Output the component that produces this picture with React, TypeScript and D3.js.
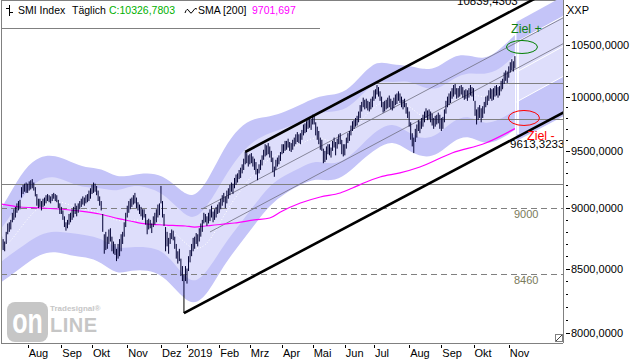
import React from "react";
import * as d3 from "d3";

// --- trading calendar (SIX) ---
const holidays = ["2018-08-01", "2018-12-24", "2018-12-25", "2018-12-26", "2018-12-31", "2019-01-01", "2019-01-02",
  "2019-04-19", "2019-04-22", "2019-05-01", "2019-05-30", "2019-06-10", "2019-08-01"];
const monthNames = ["2019", "Feb", "Mrz", "Apr", "Mai", "Jun", "Jul", "Aug", "Sep", "Okt", "Nov", "Dez"];

// daily [low, high], first bar = Jul 9 2018 (trading day #5)
const firstBar = 5;
const jul18 = [[8660,8760],[8650,8740],[8640,8720],[8700,8800],[8780,8870],[8800,8880],[8820,8900],[8880,8960],[8900,8990],[8920,9010],[8960,9040],[8980,9060],[8990,9070],[9090,9180],[9120,9200],[9140,9210],[9130,9220]];
const aug18 = [[9130,9210],[9150,9230],[9160,9240],[9170,9250],[9150,9220],[9100,9180],[9020,9120],[9000,9080],[9010,9080],[8980,9060],[9010,9080],[9020,9090],[9040,9110],[9060,9120],[9050,9110],[9040,9100],[9060,9120],[9080,9130],[9060,9120],[9050,9110],[9000,9070],[8950,9040]];
const sep18 = [[8950,9010],[8900,8980],[8840,8930],[8810,8880],[8830,8900],[8860,8950],[8880,8960],[8900,8990],[8920,9010],[8950,9040],[8930,9020],[8960,9040],[8990,9060],[9010,9080],[9030,9100],[9020,9090],[9040,9110],[9050,9120],[9060,9150],[9080,9170]];
const oct18 = [[9120,9200],[9130,9220],[9140,9210],[9110,9190],[9060,9150],[9020,9100],[8980,9060],[8800,8950],[8620,8780],[8650,8800],[8660,8760],[8700,8820],[8720,8830],[8640,8760],[8620,8720],[8610,8700],[8560,8660],[8580,8700],[8600,8740],[8640,8780],[8700,8800],[8760,8880],[8840,8960]];
const nov18 = [[8920,9020],[8960,9060],[8990,9080],[9010,9090],[9030,9110],[9040,9130],[9000,9090],[8980,9050],[8950,9030],[8930,9010],[8900,8990],[8920,8990],[8860,8950],[8780,8900],[8820,8910],[8830,8900],[8790,8870],[8840,8930],[8860,8960],[8880,8990],[8920,9030],[8940,9040]];
const dec18 = [[9040,9190],[8920,9060],[8850,8950],[8640,8840],[8680,8800],[8620,8750],[8700,8790],[8740,8820],[8730,8810],[8660,8760],[8580,8700],[8540,8640],[8560,8660],[8440,8580],[8400,8520],[8290,8450],[8400,8520]];
const jan19 = [[8380,8500],[8480,8600],[8550,8650],[8600,8700],[8640,8750],[8660,8760],[8700,8790],[8680,8780],[8720,8830],[8760,8870],[8800,8900],[8870,8960],[8880,8950],[8850,8930],[8870,8960],[8890,8990],[8920,9020],[8880,8970],[8900,8990],[8920,9010],[8950,9030]];
const feb19 = [[8960,9050],[8990,9080],[9020,9110],[9050,9130],[9000,9100],[9040,9150],[9080,9170],[9110,9200],[9140,9220],[9120,9210],[9170,9260],[9200,9290],[9220,9300],[9250,9330],[9260,9350],[9300,9380],[9330,9430],[9380,9490],[9390,9480],[9360,9460]];
const mar19 = [[9380,9470],[9390,9480],[9360,9450],[9330,9430],[9290,9400],[9240,9340],[9300,9380],[9330,9420],[9370,9460],[9420,9510],[9450,9560],[9460,9550],[9470,9570],[9440,9540],[9400,9500],[9310,9440],[9270,9360],[9330,9420],[9360,9440],[9380,9460],[9410,9490]];
const apr19 = [[9470,9560],[9480,9560],[9500,9590],[9510,9590],[9530,9610],[9500,9580],[9490,9570],[9510,9600],[9540,9620],[9560,9650],[9580,9670],[9570,9650],[9560,9660],[9600,9690],[9640,9740],[9660,9750],[9670,9770],[9700,9790],[9710,9790],[9690,9790]];
const may19 = [[9740,9830],[9740,9820],[9640,9760],[9600,9720],[9560,9680],[9510,9620],[9500,9600],[9390,9520],[9400,9500],[9420,9540],[9470,9560],[9460,9560],[9440,9530],[9500,9590],[9530,9620],[9460,9580],[9520,9610],[9560,9650],[9560,9660],[9470,9600],[9450,9560]];
const jun19 = [[9460,9560],[9520,9620],[9570,9660],[9590,9680],[9640,9730],[9680,9770],[9700,9780],[9720,9800],[9730,9820],[9760,9860],[9800,9920],[9860,9950],[9900,9990],[9880,9970],[9890,9980],[9870,9960],[9860,9950],[9880,9980],[9900,10000]];
const jul19 = [[9960,10060],[9980,10070],[10020,10110],[10000,10090],[9960,10050],[9900,10000],[9850,9950],[9860,9960],[9880,9970],[9890,9990],[9900,10010],[9880,9980],[9870,9960],[9890,9990],[9920,10020],[9930,10030],[9960,10050],[9940,10030],[9900,10000],[9880,9970],[9900,9980],[9840,9940],[9800,9900]];
const aug19 = [[9720,9860],[9600,9760],[9540,9660],[9480,9620],[9580,9700],[9620,9740],[9680,9780],[9660,9770],[9700,9800],[9720,9830],[9760,9860],[9800,9890],[9780,9870],[9790,9880],[9760,9860],[9730,9840],[9700,9800],[9720,9820],[9740,9830],[9750,9850],[9700,9830]];
const sep19 = [[9680,9800],[9700,9810],[9760,9880],[9840,9960],[9900,10000],[9920,10030],[9940,10050],[9980,10080],[10000,10110],[10020,10120],[9980,10080],[9990,10080],[10000,10100],[10020,10110],[9990,10090],[9970,10060],[9980,10070],[9960,10060],[9990,10080],[10010,10110],[10000,10090]];
const oct19 = [[9960,10080],[9820,9960],[9740,9880],[9780,9900],[9800,9920],[9760,9890],[9800,9910],[9840,9950],[9900,10000],[9920,10010],[9960,10060],[9980,10080],[9960,10070],[9970,10080],[10000,10100],[10010,10110],[9990,10090],[10010,10100],[10050,10150],[10070,10170],[10120,10230],[10150,10250],[10130,10240]];
const nov19 = [[10180,10290],[10230,10330],[10250,10360],[10240,10340],[10270,10390]];

// SMA 200
const smaDays = [5, 17, 30, 43, 56, 69, 82, 89, 99, 112, 125, 131, 138, 144, 151, 157, 170, 180, 187, 200, 213, 226, 234, 243, 252, 265, 278, 299, 321, 340];
const smaVals = [9033, 9009, 9001, 8992, 8975, 8950, 8908, 8891, 8866, 8857, 8849, 8840, 8849, 8857, 8866, 8874, 8900, 8916, 8967, 9043, 9095, 9129, 9172, 9225, 9268, 9304, 9356, 9481, 9571, 9702];

// bands
const bandDays = [0, 10, 20, 30, 40, 50, 60, 70, 80, 90, 100, 110, 120, 130, 140, 150, 160, 170, 180, 190, 200, 210, 220, 230, 240, 250, 260, 270, 280, 290, 300, 310, 320, 330, 340];
const outerTop = [8899, 9112, 9348, 9454, 9463, 9401, 9348, 9348, 9260, 9286, 9304, 9286, 9173, 9069, 9242, 9526, 9717, 9800, 9810, 9856, 9921, 9997, 10015, 10044, 10206, 10352, 10303, 10303, 10255, 10274, 10401, 10401, 10352, 10450, 10600];
const innerTop = [8749, 8916, 9129, 9260, 9277, 9216, 9173, 9173, 9138, 9199, 9181, 9129, 9001, 8882, 9026, 9260, 9463, 9598, 9662, 9708, 9763, 9846, 9856, 9874, 10015, 10158, 10130, 10158, 10082, 10063, 10177, 10235, 10206, 10255, 10401];
const midBand = [8610, 8700, 8882, 9026, 9069, 9026, 8984, 8967, 8882, 8899, 8899, 8882, 8774, 8634, 8691, 8942, 9138, 9312, 9437, 9508, 9553, 9644, 9571, 9598, 9782, 9940, 9968, 9940, 9782, 9828, 9968, 10044, 9978, 10044, 10158];
const innerBot = [8505, 8610, 8691, 8782, 8807, 8790, 8774, 8749, 8658, 8675, 8675, 8650, 8505, 8361, 8489, 8691, 8857, 9026, 9199, 9286, 9348, 9419, 9374, 9419, 9553, 9690, 9763, 9671, 9598, 9644, 9782, 9828, 9735, 9782, 9874];
const outerBot = [8353, 8433, 8529, 8618, 8642, 8602, 8594, 8553, 8449, 8489, 8489, 8449, 8314, 8197, 8306, 8529, 8691, 8857, 9026, 9129, 9199, 9260, 9225, 9286, 9419, 9526, 9598, 9508, 9437, 9463, 9598, 9644, 9553, 9598, 9690];
// projected band
const projDays = [341, 372];
const projOuterTop = [10731, 10998];
const projInnerTop = [10530, 10792];
const projMid = [10235, 10490];
const projInnerBot = [9949, 10197];
const projOuterBot = [9589, 9819];

// trend channel [day, value]
const upperLine = [[164, 9490], [380, 11199]];
const lowerLine = [[124, 8150], [380, 9913]];
const thinLineA = [[136, 8993], [380, 10843]];
const thinLineB = [[141, 8799], [380, 10582]];
const solidLevels = [[5, 9205], [207, 9790], [250, 10125]];
const dashedLevels = [9000, 8460];

const yTicks = [8000, 8500, 9000, 9500, 10000, 10500];

function tradingDays(n: number) {
  const out: Date[] = [];
  const d = new Date(Date.UTC(2018, 6, 2));
  while (out.length < n) {
    const wd = d.getUTCDay();
    const key = d.toISOString().slice(0, 10);
    if (wd !== 0 && wd !== 6 && !holidays.includes(key)) out.push(new Date(d));
    d.setUTCDate(d.getUTCDate() + 1);
  }
  return out;
}

const fmt = (v: number) => v.toFixed(4).replace(".", ",");

export default function App() {
  const L = 1, R = 563, T = 0, B = 343;
  const days = tradingDays(380);
  const bars = [jul18, aug18, sep18, oct18, nov18, dec18, jan19, feb19, mar19, apr19, may19, jun19, jul19, aug19, sep19, oct19, nov19]
    .flat().map((d, k) => ({ i: firstBar + k, lo: d[0], hi: d[1] }));
  const lastIdx = bars[bars.length - 1].i;

  const x = d3.scaleLinear().domain([4.6, 371.4]).range([L, R]);
  const y = d3.scaleLog().domain([7922.5, 10956]).range([B, T]);

  // month ticks inside data range
  const months: { i: number; label: string }[] = [];
  days.forEach((d, i) => {
    if (i === 0 || i > lastIdx) return;
    if (d.getUTCMonth() !== days[i - 1].getUTCMonth()) {
      const m = d.getUTCMonth();
      months.push({ i, label: m === 0 ? String(d.getUTCFullYear()) : monthNames[m] });
    }
  });

  const band = bandDays.map((i, k) => ({ i, ot: outerTop[k], it: innerTop[k], m: midBand[k], ib: innerBot[k], ob: outerBot[k] }));
  const proj = projDays.map((i, k) => ({ i, ot: projOuterTop[k], it: projInnerTop[k], m: projMid[k], ib: projInnerBot[k], ob: projOuterBot[k] }));

  const area = (lo: string, hi: string, curve: d3.CurveFactory) =>
    d3.area<any>().x((d) => x(d.i)).y0((d) => y(d[lo])).y1((d) => y(d[hi])).curve(curve);
  const line = (key: string, curve: d3.CurveFactory) =>
    d3.line<any>().x((d) => x(d.i)).y((d) => y(d[key])).curve(curve);

  const sma = smaDays.map((i, k) => ({ i, v: smaVals[k] }));
  const smaPath = d3.line<any>().x((d) => x(d.i)).y((d) => y(d.v)).curve(d3.curveMonotoneX)(sma);

  const seg = (p: number[][]) => ({ x1: x(p[0][0]), y1: y(p[0][1]), x2: x(p[1][0]), y2: y(p[1][1]) });

  const minorTicks = d3.range(8000, 11000, 100);
  const font = "'Liberation Sans', Arial, sans-serif";
  const xr = x(lastIdx + 2);

  return (
    <svg width={640} height={360} style={{ position: "absolute", left: 0, top: 0, background: "#fff" }} fontFamily={font}>
      <defs>
        <clipPath id="plot"><rect x={L} y={T} width={R - L} height={B - T} /></clipPath>
      </defs>
      <rect x={0} y={0} width={640} height={360} fill="#fff" />
      <line x1={L} x2={R} y1={0.5} y2={0.5} stroke="#808080" />
      <g clipPath="url(#plot)">
        {/* bands */}
        <path d={area("ob", "ot", d3.curveBasis)(band) || ""} fill="#c4c4f8" />
        <path d={area("ib", "it", d3.curveBasis)(band) || ""} fill="#dedefb" />
        <path d={line("m", d3.curveBasis)(band) || ""} fill="none" stroke="#fff" strokeWidth={1} strokeDasharray="1,2" />
        <path d={area("ob", "ot", d3.curveLinear)(proj) || ""} fill="#c4c4f8" />
        <path d={area("ib", "it", d3.curveLinear)(proj) || ""} fill="#dedefb" />
        {["it", "m", "ib"].map((k) => (
          <path key={k} d={line(k, d3.curveLinear)(proj) || ""} fill="none" stroke="#fff" strokeWidth={1} />
        ))}
        <line x1={xr} x2={xr} y1={y(10540)} y2={y(9650)} stroke="#fff" strokeWidth={2} />

        {/* levels */}
        {solidLevels.map(([i, v]) => (
          <line key={v} x1={x(i)} x2={R} y1={Math.round(y(v)) + 0.5} y2={Math.round(y(v)) + 0.5} stroke="#808080" strokeWidth={1} />
        ))}
        {dashedLevels.map((v) => (
          <g key={v}>
            <line x1={L} x2={R} y1={Math.round(y(v)) + 0.5} y2={Math.round(y(v)) + 0.5} stroke="#808080" strokeDasharray="6,4" />
            <text x={514} y={y(v) + 10} fontSize={11} fill="#7a7a5a">{v}</text>
          </g>
        ))}

        {/* channel */}
        <line {...seg(thinLineA)} stroke="#6e6e80" strokeWidth={0.8} />
        <line {...seg(thinLineB)} stroke="#6e6e80" strokeWidth={0.8} />

        {/* SMA 200 */}
        <path d={smaPath || ""} fill="none" stroke="#ff00ff" strokeWidth={1.2} />

        {/* price bars */}
        {bars.map((b) => (
          <line key={b.i} x1={x(b.i)} x2={x(b.i)} y1={y(b.lo)} y2={y(b.hi)} stroke="#000033" strokeWidth={1} />
        ))}

        <line {...seg(upperLine)} stroke="#000" strokeWidth={2.6} />
        <line {...seg(lowerLine)} stroke="#000" strokeWidth={2.6} />
        <line x1={x(lowerLine[0][0])} x2={x(lowerLine[0][0])} y1={y(lowerLine[0][1])} y2={y(8290)} stroke="#000" strokeWidth={1} />

        {/* targets */}
        <ellipse cx={xr + 4} cy={y(10480)} rx={15.5} ry={6.5} fill="none" stroke="#008000" strokeWidth={1} />
        <ellipse cx={xr + 6} cy={y(9800)} rx={15.5} ry={7.5} fill="none" stroke="#ff0000" strokeWidth={1} />
        <text x={511} y={33} fontSize={12.5} fill="#108010">Ziel +</text>
        <text x={527} y={140} fontSize={12.5} fill="#ff0000">Ziel -</text>
        <text x={510} y={148} fontSize={11.5} fill="#000">9613,3233</text>
        <text x={457} y={5} fontSize={11.5} fill="#000">10839,4303</text>

        {/* watermark */}
        <g fill="#c6c6c6">
          <text x={50} y={311} fontSize={8} fontWeight="bold">Tradesignal®</text>
          <rect x={7} y={302} width={41} height={40} rx={8} />
          <text x={27.5} y={0} fontSize={25} fontWeight="bold" fill="#fff" textAnchor="middle" transform="translate(0,333) scale(1,1.4)">on</text>
          <text x={50} y={332} fontSize={20} fontWeight="bold" letterSpacing={0.5}>LINE</text>
        </g>
      </g>

      {/* legend box */}
      <rect x={L + 1} y={1} width={319} height={27} fill="#fff" />
      <line x1={L} x2={320} y1={28.5} y2={28.5} stroke="#808080" />

      {/* frame */}
      <line x1={L + 0.5} x2={L + 0.5} y1={0} y2={B} stroke="#808080" />
      <line x1={L} x2={R} y1={B + 0.5} y2={B + 0.5} stroke="#808080" />
      <line x1={R + 0.5} x2={R + 0.5} y1={0} y2={B} stroke="#808080" />

      {/* y axis */}
      {minorTicks.map((v) => (
        <line key={v} x1={R + 3} x2={R + 5} y1={Math.round(y(v)) + 0.5} y2={Math.round(y(v)) + 0.5} stroke="#000" />
      ))}
      {yTicks.map((v) => (
        <g key={v}>
          <line x1={R + 3} x2={R + 7} y1={Math.round(y(v)) + 0.5} y2={Math.round(y(v)) + 0.5} stroke="#000" />
          <text x={R + 8} y={y(v) + 4} fontSize={11} fill="#000">{fmt(v)}</text>
        </g>
      ))}
      <text x={567} y={14} fontSize={11} fill="#000">XXP</text>
      <g transform="translate(555,334)">
        <rect x={0.5} y={0.5} width={7} height={7} fill="#fff" stroke="#808080" />
        <line x1={1} y1={7} x2={7} y2={1} stroke="#404040" />
      </g>

      {/* x axis */}
      {months.map((m) => (
        <g key={m.i}>
          <line x1={Math.round(x(m.i)) + 0.5} x2={Math.round(x(m.i)) + 0.5} y1={B + 2} y2={B + 5} stroke="#000" />
          <text x={x(m.i) + 1} y={357} fontSize={11} fill="#000">{m.label}</text>
        </g>
      ))}

      {/* legend */}
      <g fontSize={10.5}>
        <path d="M9.5,5 V16 M6,8.5 H9.5 M9.5,12.5 H13" stroke="#000" fill="none" />
        <text x={18} y={14} fill="#000">SMI Index</text>
        <text x={72} y={14} fill="#000">Täglich</text>
        <text x={109} y={14} fill="#00b000">C:10326,7803</text>
        <path d="M185,13 q2,-6 4,-2 t4,0 t4,-2" stroke="#000" fill="none" />
        <text x={198} y={14} fill="#000">SMA [200]</text>
        <text x={252} y={14} fill="#ff00ff">9701,697</text>
      </g>
    </svg>
  );
}
